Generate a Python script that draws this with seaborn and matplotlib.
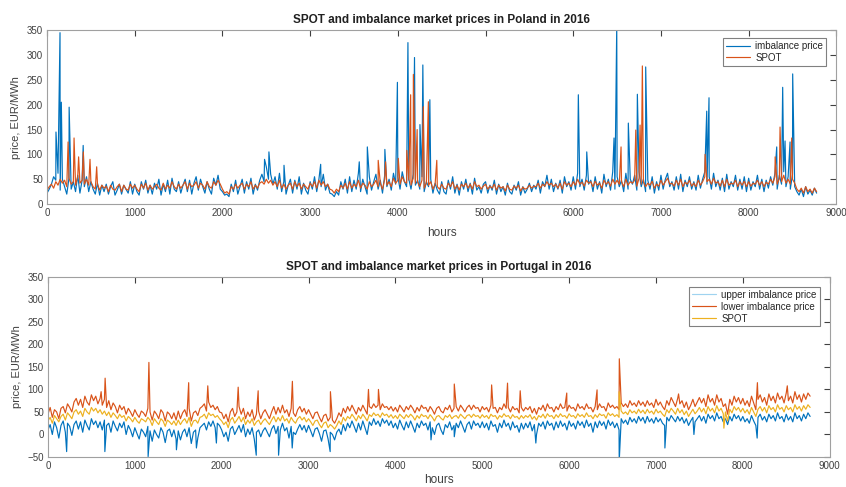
import numpy as np
import pandas as pd
import matplotlib
matplotlib.use("Agg")
import matplotlib.pyplot as plt
import seaborn as sns

# sample hours (every 25 h) for the baseline readings
hours = np.arange(0, 8800, 25)

# --- Poland ---
pl_imb = [
    22, 30, 40, 55, 48, 62, 28, 50, 35, 20, 52, 30, 45, 25, 58, 22, 48, 35, 55, 25,
    45, 30, 20, 42, 18, 38, 25, 40, 20, 35, 45, 18, 28, 40, 20, 38, 30, 22, 45, 20,
    40, 25, 18, 45, 30, 48, 22, 38, 20, 42, 30, 50, 18, 40, 25, 48, 20, 52, 30, 25,
    45, 22, 38, 50, 25, 48, 20, 42, 55, 28, 50, 35, 22, 45, 30, 20, 52, 38, 58, 30,
    25, 18, 20, 15, 40, 25, 48, 20, 35, 50, 22, 45, 30, 52, 20, 40, 28, 48, 60, 45,
    75, 50, 60, 40, 55, 30, 62, 25, 45, 20, 38, 50, 22, 48, 30, 55, 20, 42, 28, 20,
    45, 30, 55, 25, 50, 35, 60, 28, 40, 22, 20, 15, 25, 18, 45, 30, 50, 22, 55, 25,
    48, 30, 62, 25, 50, 35, 20, 55, 28, 45, 60, 30, 48, 22, 58, 35, 50, 28, 62, 40,
    55, 30, 65, 45, 35, 50, 30, 60, 38, 48, 30, 55, 25, 45, 35, 50, 22, 42, 28, 20,
    45, 25, 20, 48, 30, 55, 22, 40, 18, 45, 30, 50, 25, 42, 20, 52, 28, 35, 22, 40,
    45, 22, 38, 28, 48, 20, 40, 25, 35, 18, 42, 25, 20, 38, 28, 45, 18, 35, 22, 30,
    42, 25, 38, 30, 48, 22, 45, 35, 58, 30, 50, 25, 42, 30, 48, 22, 55, 35, 45, 28,
    55, 30, 62, 35, 50, 28, 58, 40, 48, 25, 55, 30, 45, 22, 60, 35, 50, 28, 65, 30,
    55, 35, 48, 25, 62, 30, 50, 40, 58, 28, 65, 35, 50, 25, 48, 30, 55, 22, 45, 28,
    58, 30, 50, 62, 35, 45, 28, 55, 30, 60, 25, 48, 35, 55, 30, 45, 28, 58, 32, 50,
    65, 40, 55, 30, 62, 35, 48, 28, 52, 25, 60, 30, 45, 35, 58, 28, 50, 30, 55, 25,
    52, 28, 45, 35, 58, 30, 50, 25, 48, 32, 55, 38, 62, 30, 58, 40, 65, 35, 55, 30,
    60, 35, 25, 18, 30, 15, 35, 20, 28, 18, 32, 22,
]
pl_spot = [
    28, 35, 40, 32, 45, 38, 50, 42, 48, 35, 52, 40, 45, 38, 55, 42, 48, 40, 50, 38,
    45, 35, 30, 40, 28, 38, 32, 36, 25, 38, 30, 28, 35, 40, 25, 38, 30, 28, 40, 32,
    38, 30, 25, 40, 32, 42, 28, 38, 30, 35, 40, 32, 28, 42, 30, 38, 32, 45, 35, 30,
    40, 32, 38, 45, 30, 42, 35, 38, 45, 32, 42, 38, 30, 45, 35, 32, 45, 38, 48, 40,
    30, 22, 25, 20, 35, 30, 40, 32, 38, 42, 30, 40, 35, 45, 30, 38, 32, 42, 45, 40,
    50, 42, 48, 38, 45, 35, 48, 32, 40, 30, 38, 42, 30, 45, 35, 42, 30, 40, 35, 30,
    42, 35, 45, 32, 48, 38, 45, 35, 40, 30, 28, 22, 30, 25, 38, 32, 42, 30, 45, 32,
    40, 35, 48, 32, 42, 38, 30, 45, 35, 40, 48, 35, 42, 30, 50, 38, 45, 35, 52, 42,
    48, 40, 55, 45, 42, 48, 38, 52, 42, 45, 35, 48, 32, 42, 38, 45, 30, 40, 35, 30,
    40, 32, 30, 42, 35, 45, 30, 38, 28, 40, 35, 42, 32, 40, 30, 45, 35, 38, 30, 36,
    40, 30, 36, 32, 40, 28, 38, 32, 35, 26, 38, 30, 28, 36, 32, 38, 26, 34, 30, 32,
    38, 32, 36, 35, 42, 32, 40, 36, 45, 38, 42, 35, 40, 32, 42, 30, 45, 38, 42, 35,
    45, 38, 50, 40, 44, 36, 48, 42, 45, 35, 46, 38, 42, 32, 48, 40, 45, 36, 50, 40,
    48, 40, 45, 35, 50, 38, 45, 42, 48, 36, 52, 40, 45, 35, 42, 38, 46, 32, 40, 36,
    48, 38, 45, 52, 40, 42, 36, 48, 38, 50, 35, 44, 40, 48, 36, 42, 35, 48, 38, 45,
    55, 45, 50, 40, 52, 42, 45, 36, 48, 35, 50, 38, 42, 40, 48, 35, 45, 38, 46, 35,
    45, 36, 42, 40, 48, 38, 45, 35, 44, 40, 50, 42, 55, 40, 52, 45, 58, 42, 50, 40,
    50, 42, 30, 25, 32, 22, 35, 25, 30, 22, 32, 25,
]
pl_imb_spike_h = [102, 148, 163, 252, 412, 2480, 2530, 2702, 3120, 3560, 3652,
                  3852, 3995, 4115, 4190, 4252, 4285, 4365, 6058, 6154, 6465,
                  6496, 6628, 6731, 6826, 7522, 7548, 8320, 8388, 8415, 8472, 8502]
pl_imb_spike_v = [145, 345, 205, 195, 118, 90, 105, 78, 80, 85, 115,
                  110, 245, 325, 295, 160, 280, 210, 220, 105, 133,
                  360, 163, 221, 276, 187, 214, 115, 235, 127, 125, 262]
pl_spot_spike_h = [240, 308, 360, 414, 490, 566, 3776, 3860, 4005, 4102, 4146,
                   4177, 4220, 4291, 4348, 4444, 6545, 6713, 6762, 6788, 7503,
                   8302, 8358, 8491]
pl_spot_spike_v = [125, 133, 95, 105, 90, 75, 88, 85, 92, 108, 220,
                   261, 150, 196, 206, 88, 115, 149, 159, 278, 100,
                   95, 155, 133]

# --- Portugal ---
pt_up = [
    10, 22, 0, 28, 15, -8, 20, 30, 5, 25, 18, -2, 22, 30, 12, 28, 5, 32, 20, 10,
    35, 22, 30, 15, 28, 10, 32, 20, 25, 5, 30, 18, 8, 25, 15, 28, 0, 20, 10, -5,
    15, 2, -10, 12, 5, -5, 18, 8, -15, 10, 0, -8, 15, 5, -18, 8, 12, -5, 10, -10,
    8, -12, 5, 12, -5, 15, -20, 5, 10, -8, 15, 20, 25, 10, 28, 18, 30, 15, 25, 20,
    10, -5, 5, -15, 12, 18, 0, 10, 20, 5, 22, -5, 12, 0, 15, -10, 5, 10, -5, 8,
    15, 5, -5, 12, 20, 2, 18, 10, 25, 8, 15, -8, 18, 5, 0, 12, 22, 10, 20, 5,
    20, 8, -5, 12, 15, 2, -15, 8, 10, -10, 5, 0, -12, 5, 12, 0, 22, 8, 25, 15,
    30, 18, 5, 25, 10, 30, 15, 0, 28, 20, 35, 22, 30, 18, 35, 25, 32, 20, 30, 15,
    25, 12, 32, 20, 10, 28, 15, 30, 18, 5, 25, 15, 30, 20, 25, 10, 28, 15, 0, 20,
    25, 10, 0, 22, 15, 28, 10, 20, 25, 15, 30, 18, 5, 22, 28, 12, 30, 20, 25, 15,
    28, 15, 25, 10, 30, 18, 22, 5, 25, 15, 32, 18, 25, 10, 28, 15, 20, 5, 25, 12,
    25, 15, 28, 8, 22, 0, 25, 18, 28, 12, 30, 20, 25, 10, 28, 15, 30, 18, 25, 10,
    30, 18, 25, 12, 30, 20, 28, 15, 32, 18, 25, 5, 28, 15, 30, 20, 28, 12, 32, 20,
    28, 15, 25, 10, 35, 25, 32, 22, 38, 28, 35, 25, 40, 30, 38, 25, 40, 28, 35, 25,
    38, 28, 35, 25, 20, 38, 30, 42, 35, 28, 40, 30, 38, 25, 35, 20, 30, 38, 28, 35,
    42, 30, 40, 25, 45, 35, 42, 30, 48, 35, 40, 28, 35, 22, 40, 30, 45, 35, 42, 30,
    40, 28, 35, 25, 42, 30, 20, 38, 45, 32, 40, 28, 45, 35, 42, 30, 48, 35, 40, 28,
    45, 32, 40, 28, 48, 35, 42, 30, 45, 35, 48, 40,
]
pt_low = [
    45, 60, 38, 55, 50, 35, 58, 62, 48, 68, 60, 50, 72, 80, 65, 78, 60, 85, 72, 65,
    88, 75, 85, 68, 80, 65, 78, 60, 75, 55, 70, 62, 48, 65, 55, 62, 45, 58, 50, 40,
    55, 45, 38, 52, 48, 40, 58, 50, 32, 52, 45, 35, 55, 48, 30, 50, 45, 35, 48, 32,
    52, 35, 48, 55, 40, 58, 30, 48, 52, 42, 58, 62, 68, 52, 72, 60, 65, 55, 62, 50,
    48, 35, 45, 28, 50, 58, 40, 50, 62, 45, 58, 35, 50, 40, 55, 32, 45, 52, 35, 48,
    55, 45, 35, 50, 62, 45, 60, 48, 65, 48, 55, 40, 58, 48, 40, 55, 62, 50, 58, 45,
    55, 45, 35, 48, 50, 38, 28, 42, 45, 30, 38, 32, 25, 35, 48, 40, 58, 48, 62, 52,
    65, 55, 45, 60, 52, 65, 55, 45, 62, 58, 68, 60, 65, 55, 68, 60, 62, 55, 62, 52,
    60, 50, 65, 58, 50, 62, 55, 65, 58, 48, 60, 52, 65, 58, 60, 50, 62, 55, 45, 58,
    62, 52, 48, 60, 55, 65, 50, 58, 62, 52, 65, 58, 50, 60, 65, 55, 65, 58, 60, 50,
    62, 55, 60, 50, 65, 58, 60, 48, 60, 55, 68, 58, 60, 50, 62, 55, 58, 48, 60, 52,
    60, 55, 62, 48, 58, 45, 60, 55, 65, 52, 68, 58, 60, 50, 62, 55, 68, 58, 60, 52,
    65, 58, 60, 52, 68, 58, 62, 55, 68, 58, 60, 50, 62, 55, 68, 60, 62, 52, 70, 60,
    65, 58, 62, 55, 70, 62, 68, 60, 75, 65, 70, 62, 75, 65, 72, 62, 75, 65, 70, 60,
    78, 65, 72, 62, 55, 75, 65, 82, 72, 62, 80, 68, 75, 60, 72, 55, 65, 78, 62, 72,
    82, 70, 80, 62, 88, 72, 80, 65, 88, 72, 80, 62, 68, 45, 78, 65, 85, 72, 82, 68,
    80, 65, 75, 62, 85, 70, 55, 78, 88, 72, 82, 65, 90, 75, 85, 70, 92, 78, 85, 70,
    92, 75, 85, 70, 95, 78, 88, 72, 90, 78, 92, 85,
]
pt_spot = [
    30, 38, 25, 42, 35, 28, 40, 45, 32, 48, 42, 35, 50, 55, 45, 52, 40, 58, 50, 45,
    60, 52, 58, 48, 55, 45, 52, 42, 50, 38, 48, 42, 35, 45, 38, 42, 30, 40, 35, 28,
    38, 30, 25, 35, 32, 28, 38, 32, 20, 35, 28, 22, 35, 30, 18, 32, 28, 22, 30, 20,
    32, 22, 30, 35, 25, 38, 18, 30, 32, 25, 38, 40, 45, 35, 48, 42, 45, 38, 42, 35,
    30, 22, 28, 15, 32, 38, 25, 32, 40, 28, 38, 22, 32, 25, 35, 20, 28, 32, 22, 30,
    35, 28, 22, 32, 40, 28, 38, 30, 42, 30, 35, 25, 38, 30, 25, 35, 40, 32, 38, 28,
    35, 28, 20, 30, 32, 22, 15, 25, 28, 15, 22, 18, 12, 20, 30, 22, 38, 30, 40, 35,
    45, 38, 30, 42, 35, 45, 38, 30, 44, 40, 48, 42, 45, 38, 48, 42, 45, 38, 44, 36,
    42, 35, 45, 40, 35, 44, 38, 45, 40, 32, 42, 36, 45, 40, 42, 35, 44, 38, 30, 40,
    42, 36, 32, 42, 38, 44, 35, 40, 42, 36, 45, 40, 35, 42, 44, 38, 45, 40, 42, 36,
    44, 38, 42, 35, 45, 40, 42, 34, 42, 38, 46, 40, 42, 35, 44, 38, 40, 34, 42, 36,
    42, 38, 44, 34, 40, 32, 42, 38, 45, 36, 46, 40, 42, 35, 44, 38, 46, 40, 42, 36,
    46, 40, 42, 36, 46, 40, 44, 38, 48, 40, 42, 35, 44, 38, 46, 42, 44, 36, 48, 42,
    46, 40, 44, 38, 52, 46, 50, 44, 55, 48, 52, 46, 56, 48, 54, 46, 56, 48, 52, 45,
    56, 48, 52, 45, 40, 55, 48, 58, 52, 45, 58, 48, 55, 44, 52, 40, 48, 56, 46, 52,
    60, 50, 58, 46, 62, 52, 58, 48, 64, 52, 58, 46, 50, 30, 56, 48, 62, 54, 60, 50,
    58, 48, 55, 45, 60, 50, 40, 56, 62, 52, 60, 48, 64, 55, 60, 50, 66, 56, 60, 50,
    64, 55, 60, 50, 66, 56, 62, 52, 64, 56, 66, 60,
]
pt_up_spike_h = [215, 655, 1153, 1479, 1709, 1939, 2398, 2655, 2812, 3249,
                 4410, 4678, 5617, 6577, 7103, 7437, 8165]
pt_up_spike_v = [-38, -38, -49, -34, -30, -19, -46, -46, -30, -38,
                 -12, -5, -19, -60, -30, 0, -8]
pt_low_spike_h = [612, 658, 1162, 1620, 1840, 2190, 2420, 2814, 3252, 3690,
                  3805, 4678, 5108, 5291, 5437, 5973, 6322, 6578, 7260, 8168, 8512]
pt_low_spike_v = [95, 125, 160, 115, 108, 105, 97, 118, 95, 100,
                  100, 112, 110, 114, 97, 92, 99, 168, 90, 115, 108]
pt_spot_spike_h = [6576, 7782]
pt_spot_spike_v = [95, 14]

BLUE, ORANGE, YELLOW = "#0072BD", "#D95319", "#EDB120"


def series(base, spike_h, spike_v):
    n = min(len(hours), len(base))
    df = pd.DataFrame({
        "hour": np.concatenate([hours[:n], spike_h]),
        "price": np.concatenate([base[:n], spike_v]),
    })
    return df.sort_values("hour")


sns.set_style("white")
plt.rcParams["font.family"] = ["Liberation Sans", "DejaVu Sans"]

fig = plt.figure(figsize=(8.46, 4.87), dpi=100)
ax1 = fig.add_axes([0.0556, 0.581, 0.933, 0.357])
ax2 = fig.add_axes([0.0567, 0.0616, 0.924, 0.370])

lw = 0.85
sns.lineplot(data=series(pl_imb, pl_imb_spike_h, pl_imb_spike_v), x="hour", y="price",
             ax=ax1, color=BLUE, lw=lw, label="imbalance price", estimator=None)
sns.lineplot(data=series(pl_spot, pl_spot_spike_h, pl_spot_spike_v), x="hour", y="price",
             ax=ax1, color=ORANGE, lw=lw, label="SPOT", estimator=None)

sns.lineplot(data=series(pt_up, pt_up_spike_h, pt_up_spike_v), x="hour", y="price",
             ax=ax2, color=BLUE, lw=lw, label="upper imbalance price", estimator=None)
sns.lineplot(data=series(pt_low, pt_low_spike_h, pt_low_spike_v), x="hour", y="price",
             ax=ax2, color=ORANGE, lw=lw, label="lower imbalance price", estimator=None)
sns.lineplot(data=series(pt_spot, pt_spot_spike_h, pt_spot_spike_v), x="hour", y="price",
             ax=ax2, color=YELLOW, lw=lw, label="SPOT", estimator=None)

for ax, ylo, title, anchor, xpad in [
    (ax1, 0, "SPOT and imbalance market prices in Poland in 2016", (0.987, 0.955), 6),
    (ax2, -50, "SPOT and imbalance market prices in Portugal in 2016", (0.987, 0.945), 2),
]:
    ax.set_xlim(0, 9000)
    ax.set_ylim(ylo, 350)
    ax.set_xticks(range(0, 9001, 1000))
    ax.set_yticks(range(ylo, 351, 50))
    ax.tick_params(direction="in", top=True, right=True, length=4, width=0.8,
                   color="#404040", labelsize=7, labelcolor="#404040", pad=3)
    for s in ax.spines.values():
        s.set_color("#a0a0a0")
        s.set_linewidth(0.8)
    ax.set_xlabel("hours", fontsize=8.5, color="#404040", labelpad=xpad)
    ax.set_ylabel("price, EUR/MWh", fontsize=8, color="#404040", labelpad=4)
    ax.set_title(title, fontsize=8.5, fontweight="bold", color="#202020", pad=5)
    leg = ax.legend(loc="upper right", bbox_to_anchor=anchor, fontsize=7,
                    frameon=True, fancybox=False, edgecolor="#606060",
                    handlelength=2.5, borderpad=0.3, labelspacing=0.2,
                    handletextpad=0.5, borderaxespad=0)
    leg.get_frame().set_linewidth(0.8)

ax2.get_legend().legend_handles[0].set_color("#9fd3f0")

fig.savefig("out.png", dpi=100)
